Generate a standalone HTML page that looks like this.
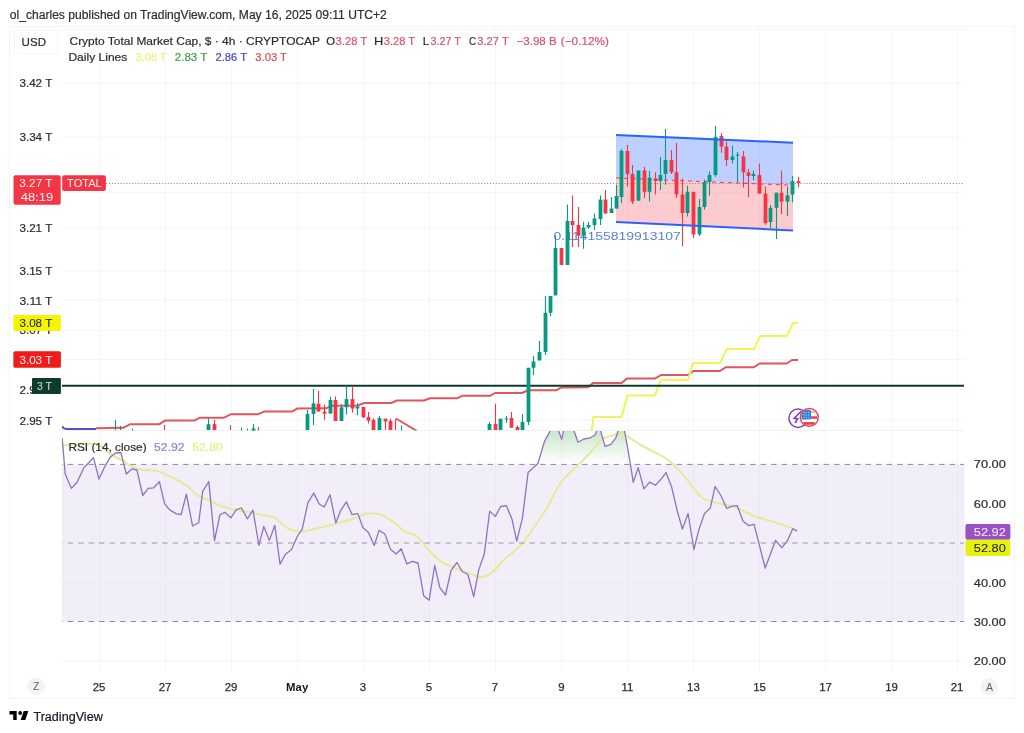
<!DOCTYPE html>
<html><head><meta charset="utf-8"><style>
html,body{margin:0;padding:0;background:#fff;width:1024px;height:733px;overflow:hidden;}
svg{display:block;font-family:"Liberation Sans", sans-serif;will-change:transform;}
</style></head><body>
<svg width="1024" height="733" viewBox="0 0 1024 733">
<rect x="9.5" y="26.5" width="1005" height="672" fill="none" stroke="#f4f4f4" stroke-width="1"/>
<rect x="14.5" y="30.5" width="43" height="23" rx="3" fill="none" stroke="#f5f5f5"/>
<line x1="99.5" y1="27" x2="99.5" y2="671" stroke="#f6f6f8" stroke-width="1"/>
<line x1="165.5" y1="27" x2="165.5" y2="671" stroke="#f6f6f8" stroke-width="1"/>
<line x1="231.5" y1="27" x2="231.5" y2="671" stroke="#f6f6f8" stroke-width="1"/>
<line x1="297.5" y1="27" x2="297.5" y2="671" stroke="#f6f6f8" stroke-width="1"/>
<line x1="363.5" y1="27" x2="363.5" y2="671" stroke="#f6f6f8" stroke-width="1"/>
<line x1="429.5" y1="27" x2="429.5" y2="671" stroke="#f6f6f8" stroke-width="1"/>
<line x1="495.5" y1="27" x2="495.5" y2="671" stroke="#f6f6f8" stroke-width="1"/>
<line x1="561.5" y1="27" x2="561.5" y2="671" stroke="#f6f6f8" stroke-width="1"/>
<line x1="627.5" y1="27" x2="627.5" y2="671" stroke="#f6f6f8" stroke-width="1"/>
<line x1="693.5" y1="27" x2="693.5" y2="671" stroke="#f6f6f8" stroke-width="1"/>
<line x1="759.5" y1="27" x2="759.5" y2="671" stroke="#f6f6f8" stroke-width="1"/>
<line x1="825.5" y1="27" x2="825.5" y2="671" stroke="#f6f6f8" stroke-width="1"/>
<line x1="891.5" y1="27" x2="891.5" y2="671" stroke="#f6f6f8" stroke-width="1"/>
<line x1="957.5" y1="27" x2="957.5" y2="671" stroke="#f6f6f8" stroke-width="1"/>
<line x1="62" y1="83.0" x2="964" y2="83.0" stroke="#f6f6f8" stroke-width="1"/>
<line x1="62" y1="137.0" x2="964" y2="137.0" stroke="#f6f6f8" stroke-width="1"/>
<line x1="62" y1="192.4" x2="964" y2="192.4" stroke="#f6f6f8" stroke-width="1"/>
<line x1="62" y1="227.5" x2="964" y2="227.5" stroke="#f6f6f8" stroke-width="1"/>
<line x1="62" y1="271.0" x2="964" y2="271.0" stroke="#f6f6f8" stroke-width="1"/>
<line x1="62" y1="300.0" x2="964" y2="300.0" stroke="#f6f6f8" stroke-width="1"/>
<line x1="62" y1="330.5" x2="964" y2="330.5" stroke="#f6f6f8" stroke-width="1"/>
<line x1="62" y1="359.5" x2="964" y2="359.5" stroke="#f6f6f8" stroke-width="1"/>
<line x1="62" y1="389.5" x2="964" y2="389.5" stroke="#f6f6f8" stroke-width="1"/>
<line x1="62" y1="420.5" x2="964" y2="420.5" stroke="#f6f6f8" stroke-width="1"/>
<line x1="62" y1="430.5" x2="964" y2="430.5" stroke="#f0f0f0" stroke-width="1"/>
<line x1="59" y1="29.5" x2="964" y2="29.5" stroke="#f7f7f7" stroke-width="1"/>
<polygon points="616,135 793,142.7 793,185.3 616,178" fill="rgba(41,98,255,0.3)"/>
<polygon points="616,178 793,185.3 793,230.4 616,222" fill="rgba(242,54,69,0.26)"/>
<line x1="106" y1="183.5" x2="964" y2="183.5" stroke="#c9788a" stroke-width="1" stroke-dasharray="1.2,1.73"/>
<line x1="616" y1="178" x2="793" y2="185.3" stroke="#f23645" stroke-width="1" stroke-dasharray="4,4"/>
<defs><clipPath id="mp"><rect x="62" y="60" width="902" height="370.5"/></clipPath><clipPath id="rp"><rect x="62" y="431" width="902" height="240"/></clipPath><linearGradient id="ob" x1="0" y1="431" x2="0" y2="464.4" gradientUnits="userSpaceOnUse"><stop offset="0" stop-color="rgba(76,175,80,0.3)"/><stop offset="1" stop-color="rgba(76,175,80,0)"/></linearGradient></defs>
<text x="553.50" y="239.80" font-size="11.2" font-weight="normal" fill="#5b80d0" stroke="#5b80d0" stroke-width="0" textLength="127.25" lengthAdjust="spacingAndGlyphs" font-family="'Liberation Sans', sans-serif">0.114155819913107</text>
<g clip-path="url(#mp)">
<polyline points="96.0,428.2 123.0,427.8 130.0,424.3 159.0,424.3 165.0,420.6 194.0,420.6 200.0,417.7 224.0,417.7 231.0,414.2 258.0,414.2 264.0,411.6 292.0,411.6 297.0,408.6 326.0,408.3 331.0,405.8 358.0,405.5 364.0,403.0 391.0,403.0 397.0,400.5 424.0,400.5 430.0,398.3 457.0,398.3 462.0,395.8 490.0,395.8 495.0,393.0 522.0,393.0 528.0,390.3 556.0,390.3 561.0,387.6 588.0,387.2 593.0,383.0 621.5,383.0 627.0,378.6 655.0,378.6 661.0,375.0 688.0,375.0 693.4,371.0 720.0,371.0 726.0,367.2 754.0,367.2 759.7,363.5 786.6,363.5 792.0,360.0 798.0,360.0" fill="none" stroke="#e0565f" stroke-width="2" stroke-linejoin="round"/>
<path d="M62,426 Q63,429 67,429 L96,429" fill="none" stroke="#5a4fc8" stroke-width="2"/>
<line x1="396" y1="418.5" x2="417" y2="431" stroke="#e0565f" stroke-width="2"/>
<polyline points="591.5,432.0 593.5,417.0 621.6,417.0 627.5,395.4 655.0,395.4 660.7,380.0 688.0,380.0 693.0,363.0 720.0,363.0 727.0,349.0 754.0,349.0 760.0,336.0 787.0,336.0 793.0,323.0 798.0,323.0" fill="none" stroke="#eef45a" stroke-width="2" stroke-linejoin="round"/>
<line x1="62" y1="385.8" x2="964" y2="385.8" stroke="#0f3a2e" stroke-width="2"/>
<line x1="115.5" y1="420.0" x2="115.5" y2="430.0" stroke="#089981" stroke-width="1.1"/>
<line x1="120.5" y1="426.0" x2="120.5" y2="430.0" stroke="#089981" stroke-width="1.1"/>
<line x1="132.5" y1="428.5" x2="132.5" y2="431.0" stroke="#089981" stroke-width="1.1"/>
<line x1="164.5" y1="425.0" x2="164.5" y2="430.0" stroke="#f23645" stroke-width="1.1"/>
<line x1="208.5" y1="418.3" x2="208.5" y2="430.0" stroke="#089981" stroke-width="1.1"/>
<rect x="206.6" y="424.2" width="3.8" height="5.8" fill="#089981"/>
<line x1="214.5" y1="419.9" x2="214.5" y2="430.0" stroke="#f23645" stroke-width="1.1"/>
<rect x="212.6" y="424.2" width="3.8" height="5.8" fill="#f23645"/>
<line x1="230.5" y1="425.2" x2="230.5" y2="430.0" stroke="#f23645" stroke-width="1.1"/>
<line x1="241.5" y1="427.5" x2="241.5" y2="431.0" stroke="#089981" stroke-width="1.1"/>
<line x1="247.5" y1="428.5" x2="247.5" y2="431.0" stroke="#089981" stroke-width="1.1"/>
<line x1="253.5" y1="424.0" x2="253.5" y2="431.0" stroke="#089981" stroke-width="1.1"/>
<rect x="251.6" y="428.5" width="3.8" height="2.5" fill="#089981"/>
<line x1="258.5" y1="427.0" x2="258.5" y2="431.0" stroke="#f23645" stroke-width="1.1"/>
<line x1="307.5" y1="410.0" x2="307.5" y2="430.0" stroke="#089981" stroke-width="1.1"/>
<rect x="305.6" y="414.0" width="3.8" height="16.0" fill="#089981"/>
<line x1="313.5" y1="389.0" x2="313.5" y2="425.0" stroke="#089981" stroke-width="1.1"/>
<rect x="311.6" y="403.4" width="3.8" height="10.6" fill="#089981"/>
<line x1="318.5" y1="391.0" x2="318.5" y2="411.6" stroke="#f23645" stroke-width="1.1"/>
<rect x="316.6" y="403.8" width="3.8" height="7.8" fill="#f23645"/>
<line x1="324.5" y1="404.6" x2="324.5" y2="419.8" stroke="#f23645" stroke-width="1.1"/>
<rect x="322.6" y="411.6" width="3.8" height="2.0" fill="#f23645"/>
<line x1="330.5" y1="396.8" x2="330.5" y2="413.6" stroke="#089981" stroke-width="1.1"/>
<rect x="328.6" y="400.0" width="3.8" height="13.6" fill="#089981"/>
<line x1="335.5" y1="396.4" x2="335.5" y2="421.0" stroke="#f23645" stroke-width="1.1"/>
<rect x="333.6" y="400.0" width="3.8" height="21.0" fill="#f23645"/>
<line x1="341.5" y1="404.2" x2="341.5" y2="421.0" stroke="#089981" stroke-width="1.1"/>
<rect x="339.6" y="407.3" width="3.8" height="13.7" fill="#089981"/>
<line x1="346.5" y1="386.2" x2="346.5" y2="414.4" stroke="#089981" stroke-width="1.1"/>
<rect x="344.6" y="399.1" width="3.8" height="8.2" fill="#089981"/>
<line x1="352.5" y1="386.2" x2="352.5" y2="412.8" stroke="#f23645" stroke-width="1.1"/>
<rect x="350.6" y="399.1" width="3.8" height="9.4" fill="#f23645"/>
<line x1="357.5" y1="403.0" x2="357.5" y2="415.2" stroke="#089981" stroke-width="1.1"/>
<rect x="355.6" y="406.6" width="3.8" height="1.9" fill="#089981"/>
<line x1="363.5" y1="407.0" x2="363.5" y2="418.3" stroke="#f23645" stroke-width="1.1"/>
<rect x="361.6" y="407.0" width="3.8" height="10.1" fill="#f23645"/>
<line x1="368.5" y1="412.0" x2="368.5" y2="423.4" stroke="#f23645" stroke-width="1.1"/>
<rect x="366.6" y="417.1" width="3.8" height="3.5" fill="#f23645"/>
<line x1="373.5" y1="418.3" x2="373.5" y2="430.0" stroke="#f23645" stroke-width="1.1"/>
<rect x="371.6" y="419.8" width="3.8" height="10.2" fill="#f23645"/>
<line x1="379.5" y1="416.0" x2="379.5" y2="430.0" stroke="#089981" stroke-width="1.1"/>
<rect x="377.6" y="418.0" width="3.8" height="12.0" fill="#089981"/>
<line x1="385.5" y1="418.7" x2="385.5" y2="430.0" stroke="#f23645" stroke-width="1.1"/>
<rect x="383.6" y="418.7" width="3.8" height="2.8" fill="#f23645"/>
<line x1="390.5" y1="418.7" x2="390.5" y2="430.0" stroke="#f23645" stroke-width="1.1"/>
<rect x="388.6" y="420.8" width="3.8" height="9.2" fill="#f23645"/>
<line x1="395.5" y1="418.7" x2="395.5" y2="430.0" stroke="#f23645" stroke-width="1.1"/>
<line x1="401.5" y1="425.6" x2="401.5" y2="431.0" stroke="#089981" stroke-width="1.1"/>
<line x1="489.5" y1="422.0" x2="489.5" y2="430.0" stroke="#089981" stroke-width="1.1"/>
<rect x="487.6" y="424.0" width="3.8" height="6.0" fill="#089981"/>
<line x1="495.5" y1="403.7" x2="495.5" y2="430.0" stroke="#f23645" stroke-width="1.1"/>
<rect x="493.6" y="424.0" width="3.8" height="6.0" fill="#f23645"/>
<line x1="500.5" y1="418.7" x2="500.5" y2="430.0" stroke="#089981" stroke-width="1.1"/>
<rect x="498.6" y="418.7" width="3.8" height="11.3" fill="#089981"/>
<line x1="506.5" y1="416.0" x2="506.5" y2="423.0" stroke="#089981" stroke-width="1.1"/>
<rect x="504.6" y="418.5" width="3.8" height="1.0" fill="#089981"/>
<line x1="511.5" y1="412.0" x2="511.5" y2="428.0" stroke="#f23645" stroke-width="1.1"/>
<rect x="509.6" y="418.0" width="3.8" height="9.6" fill="#f23645"/>
<line x1="517.5" y1="425.5" x2="517.5" y2="430.0" stroke="#f23645" stroke-width="1.1"/>
<rect x="515.6" y="427.0" width="3.8" height="3.0" fill="#f23645"/>
<line x1="522.5" y1="414.0" x2="522.5" y2="430.0" stroke="#089981" stroke-width="1.1"/>
<rect x="520.6" y="422.0" width="3.8" height="8.0" fill="#089981"/>
<line x1="528.5" y1="367.8" x2="528.5" y2="425.0" stroke="#089981" stroke-width="1.1"/>
<rect x="526.6" y="367.8" width="3.8" height="54.2" fill="#089981"/>
<line x1="533.5" y1="356.0" x2="533.5" y2="375.0" stroke="#089981" stroke-width="1.1"/>
<rect x="531.6" y="361.5" width="3.8" height="6.3" fill="#089981"/>
<line x1="539.5" y1="341.0" x2="539.5" y2="360.4" stroke="#089981" stroke-width="1.1"/>
<rect x="537.6" y="352.0" width="3.8" height="8.4" fill="#089981"/>
<line x1="545.5" y1="296.0" x2="545.5" y2="355.0" stroke="#089981" stroke-width="1.1"/>
<rect x="543.6" y="312.8" width="3.8" height="39.2" fill="#089981"/>
<line x1="550.5" y1="296.0" x2="550.5" y2="316.0" stroke="#089981" stroke-width="1.1"/>
<rect x="548.6" y="296.0" width="3.8" height="16.8" fill="#089981"/>
<line x1="555.5" y1="235.6" x2="555.5" y2="295.4" stroke="#089981" stroke-width="1.1"/>
<rect x="553.6" y="248.0" width="3.8" height="47.4" fill="#089981"/>
<line x1="561.5" y1="248.0" x2="561.5" y2="265.0" stroke="#f23645" stroke-width="1.1"/>
<rect x="559.6" y="248.0" width="3.8" height="17.0" fill="#f23645"/>
<line x1="567.5" y1="204.5" x2="567.5" y2="265.0" stroke="#089981" stroke-width="1.1"/>
<rect x="565.6" y="221.0" width="3.8" height="44.0" fill="#089981"/>
<line x1="572.5" y1="195.5" x2="572.5" y2="247.0" stroke="#f23645" stroke-width="1.1"/>
<rect x="570.6" y="221.0" width="3.8" height="4.0" fill="#f23645"/>
<line x1="578.5" y1="207.0" x2="578.5" y2="247.0" stroke="#f23645" stroke-width="1.1"/>
<rect x="576.6" y="225.0" width="3.8" height="10.6" fill="#f23645"/>
<line x1="583.5" y1="221.7" x2="583.5" y2="248.7" stroke="#089981" stroke-width="1.1"/>
<rect x="581.6" y="227.5" width="3.8" height="8.1" fill="#089981"/>
<line x1="588.5" y1="221.7" x2="588.5" y2="229.0" stroke="#089981" stroke-width="1.1"/>
<rect x="586.6" y="225.0" width="3.8" height="2.5" fill="#089981"/>
<line x1="594.5" y1="213.5" x2="594.5" y2="230.0" stroke="#089981" stroke-width="1.1"/>
<rect x="592.6" y="218.5" width="3.8" height="6.5" fill="#089981"/>
<line x1="600.5" y1="195.5" x2="600.5" y2="225.0" stroke="#089981" stroke-width="1.1"/>
<rect x="598.6" y="199.6" width="3.8" height="19.4" fill="#089981"/>
<line x1="605.5" y1="190.0" x2="605.5" y2="213.5" stroke="#f23645" stroke-width="1.1"/>
<rect x="603.6" y="199.6" width="3.8" height="13.9" fill="#f23645"/>
<line x1="611.5" y1="197.0" x2="611.5" y2="213.0" stroke="#089981" stroke-width="1.1"/>
<rect x="609.6" y="208.6" width="3.8" height="4.4" fill="#089981"/>
<line x1="616.5" y1="184.7" x2="616.5" y2="208.6" stroke="#089981" stroke-width="1.1"/>
<rect x="614.6" y="196.0" width="3.8" height="12.6" fill="#089981"/>
<line x1="621.5" y1="149.0" x2="621.5" y2="203.0" stroke="#089981" stroke-width="1.1"/>
<rect x="619.6" y="151.0" width="3.8" height="46.0" fill="#089981"/>
<line x1="627.5" y1="144.8" x2="627.5" y2="186.5" stroke="#f23645" stroke-width="1.1"/>
<rect x="625.6" y="151.0" width="3.8" height="23.0" fill="#f23645"/>
<line x1="632.5" y1="165.0" x2="632.5" y2="204.0" stroke="#f23645" stroke-width="1.1"/>
<rect x="630.6" y="174.0" width="3.8" height="27.6" fill="#f23645"/>
<line x1="638.5" y1="170.5" x2="638.5" y2="200.7" stroke="#089981" stroke-width="1.1"/>
<rect x="636.6" y="170.5" width="3.8" height="30.2" fill="#089981"/>
<line x1="644.5" y1="167.0" x2="644.5" y2="198.0" stroke="#f23645" stroke-width="1.1"/>
<rect x="642.6" y="170.5" width="3.8" height="21.3" fill="#f23645"/>
<line x1="649.5" y1="171.0" x2="649.5" y2="201.6" stroke="#089981" stroke-width="1.1"/>
<rect x="647.6" y="177.6" width="3.8" height="14.2" fill="#089981"/>
<line x1="655.5" y1="172.3" x2="655.5" y2="194.5" stroke="#f23645" stroke-width="1.1"/>
<rect x="653.6" y="178.5" width="3.8" height="2.5" fill="#f23645"/>
<line x1="660.5" y1="157.0" x2="660.5" y2="190.0" stroke="#089981" stroke-width="1.1"/>
<rect x="658.6" y="175.0" width="3.8" height="6.0" fill="#089981"/>
<line x1="665.5" y1="128.9" x2="665.5" y2="184.7" stroke="#089981" stroke-width="1.1"/>
<rect x="663.6" y="160.0" width="3.8" height="14.0" fill="#089981"/>
<line x1="671.5" y1="150.0" x2="671.5" y2="174.0" stroke="#f23645" stroke-width="1.1"/>
<rect x="669.6" y="160.0" width="3.8" height="12.3" fill="#f23645"/>
<line x1="676.5" y1="143.0" x2="676.5" y2="198.0" stroke="#f23645" stroke-width="1.1"/>
<rect x="674.6" y="172.3" width="3.8" height="22.2" fill="#f23645"/>
<line x1="682.5" y1="178.5" x2="682.5" y2="246.0" stroke="#f23645" stroke-width="1.1"/>
<rect x="680.6" y="194.5" width="3.8" height="18.5" fill="#f23645"/>
<line x1="687.5" y1="185.6" x2="687.5" y2="216.6" stroke="#089981" stroke-width="1.1"/>
<rect x="685.6" y="191.8" width="3.8" height="21.2" fill="#089981"/>
<line x1="693.5" y1="191.8" x2="693.5" y2="238.0" stroke="#f23645" stroke-width="1.1"/>
<rect x="691.6" y="191.8" width="3.8" height="42.6" fill="#f23645"/>
<line x1="699.5" y1="199.0" x2="699.5" y2="236.0" stroke="#089981" stroke-width="1.1"/>
<rect x="697.6" y="207.0" width="3.8" height="27.4" fill="#089981"/>
<line x1="704.5" y1="179.4" x2="704.5" y2="209.6" stroke="#089981" stroke-width="1.1"/>
<rect x="702.6" y="182.0" width="3.8" height="25.0" fill="#089981"/>
<line x1="709.5" y1="171.5" x2="709.5" y2="195.4" stroke="#089981" stroke-width="1.1"/>
<rect x="707.6" y="175.0" width="3.8" height="7.0" fill="#089981"/>
<line x1="715.5" y1="126.0" x2="715.5" y2="176.8" stroke="#089981" stroke-width="1.1"/>
<rect x="713.6" y="136.9" width="3.8" height="38.1" fill="#089981"/>
<line x1="721.5" y1="133.3" x2="721.5" y2="152.8" stroke="#f23645" stroke-width="1.1"/>
<rect x="719.6" y="136.0" width="3.8" height="10.6" fill="#f23645"/>
<line x1="726.5" y1="141.3" x2="726.5" y2="166.0" stroke="#f23645" stroke-width="1.1"/>
<rect x="724.6" y="146.6" width="3.8" height="13.4" fill="#f23645"/>
<line x1="732.5" y1="145.7" x2="732.5" y2="163.5" stroke="#089981" stroke-width="1.1"/>
<rect x="730.6" y="156.4" width="3.8" height="3.6" fill="#089981"/>
<line x1="737.5" y1="152.0" x2="737.5" y2="182.0" stroke="#089981" stroke-width="1.1"/>
<rect x="735.6" y="154.6" width="3.8" height="1.2" fill="#089981"/>
<line x1="743.5" y1="151.0" x2="743.5" y2="187.4" stroke="#f23645" stroke-width="1.1"/>
<rect x="741.6" y="156.4" width="3.8" height="15.9" fill="#f23645"/>
<line x1="748.5" y1="168.8" x2="748.5" y2="197.2" stroke="#f23645" stroke-width="1.1"/>
<rect x="746.6" y="172.3" width="3.8" height="3.6" fill="#f23645"/>
<line x1="753.5" y1="170.6" x2="753.5" y2="180.3" stroke="#089981" stroke-width="1.1"/>
<rect x="751.6" y="174.0" width="3.8" height="1.9" fill="#089981"/>
<line x1="759.5" y1="163.5" x2="759.5" y2="193.6" stroke="#f23645" stroke-width="1.1"/>
<rect x="757.6" y="175.0" width="3.8" height="18.6" fill="#f23645"/>
<line x1="765.5" y1="186.5" x2="765.5" y2="224.7" stroke="#f23645" stroke-width="1.1"/>
<rect x="763.6" y="193.6" width="3.8" height="29.4" fill="#f23645"/>
<line x1="770.5" y1="205.0" x2="770.5" y2="228.2" stroke="#089981" stroke-width="1.1"/>
<rect x="768.6" y="207.8" width="3.8" height="14.2" fill="#089981"/>
<line x1="776.5" y1="192.7" x2="776.5" y2="238.9" stroke="#089981" stroke-width="1.1"/>
<rect x="774.6" y="192.7" width="3.8" height="15.1" fill="#089981"/>
<line x1="781.5" y1="170.6" x2="781.5" y2="214.0" stroke="#f23645" stroke-width="1.1"/>
<rect x="779.6" y="192.7" width="3.8" height="8.9" fill="#f23645"/>
<line x1="787.5" y1="186.5" x2="787.5" y2="215.8" stroke="#089981" stroke-width="1.1"/>
<rect x="785.6" y="195.4" width="3.8" height="6.2" fill="#089981"/>
<line x1="792.5" y1="176.0" x2="792.5" y2="202.5" stroke="#089981" stroke-width="1.1"/>
<rect x="790.6" y="181.2" width="3.8" height="13.3" fill="#089981"/>
<line x1="798.5" y1="176.8" x2="798.5" y2="187.4" stroke="#f23645" stroke-width="1.1"/>
<rect x="796.6" y="181.2" width="3.8" height="1.8" fill="#f23645"/>
</g>
<line x1="616" y1="135" x2="793" y2="142.7" stroke="#2962ff" stroke-width="2"/>
<line x1="616" y1="222" x2="793" y2="230.4" stroke="#2962ff" stroke-width="2"/>
<circle cx="798.1" cy="418.2" r="9.2" fill="#fff" stroke="#8a40b8" stroke-width="1.5"/>
<path d="M801.5,411 L794.2,418.3 L797.6,418.6 L795.2,423" fill="none" stroke="#8a35c0" stroke-width="1.6" stroke-linejoin="miter"/>
<defs><clipPath id="fc"><circle cx="809.3" cy="417.4" r="8.3"/></clipPath></defs>
<circle cx="809.3" cy="417.4" r="8.95" fill="#fff" stroke="#d64c5c" stroke-width="1.5"/>
<g clip-path="url(#fc)">
<rect x="811" y="411.2" width="8" height="1.7" fill="#f0a6ae"/>
<rect x="811" y="416.3" width="6" height="2.5" fill="#e0424f"/>
<rect x="803.5" y="422.1" width="11.2" height="2.7" fill="#e0424f"/>
<rect x="801.4" y="410.1" width="9.6" height="9.3" rx="1.5" fill="#3a7fd8"/>
<circle cx="804.1" cy="412.5" r="0.6" fill="#b9d8f8"/>
<circle cx="804.1" cy="414.9" r="0.6" fill="#b9d8f8"/>
<circle cx="804.1" cy="417.5" r="0.6" fill="#b9d8f8"/>
<circle cx="806.2" cy="412.5" r="0.6" fill="#b9d8f8"/>
<circle cx="806.2" cy="414.9" r="0.6" fill="#b9d8f8"/>
<circle cx="806.2" cy="417.5" r="0.6" fill="#b9d8f8"/>
<circle cx="808.6" cy="412.5" r="0.6" fill="#b9d8f8"/>
<circle cx="808.6" cy="414.9" r="0.6" fill="#b9d8f8"/>
<circle cx="808.6" cy="417.5" r="0.6" fill="#b9d8f8"/>
</g>
<rect x="62" y="464.4" width="902.5" height="157.1" fill="rgba(126,87,194,0.1)"/>
<line x1="62" y1="504.0" x2="964" y2="504.0" stroke="#ebe9f0" stroke-width="1"/>
<line x1="62" y1="582.8" x2="964" y2="582.8" stroke="#ebe9f0" stroke-width="1"/>
<line x1="62" y1="661" x2="964" y2="661" stroke="#f3f3f6" stroke-width="1"/>
<g clip-path="url(#rp)">
<clipPath id="ab"><rect x="62" y="431" width="902" height="33.4"/></clipPath>
<polygon points="62.2,438.2 65.2,474.0 71.4,488.4 77.1,482.2 83.7,467.9 88.8,462.8 93.5,457.6 99.0,479.1 104.1,467.9 109.9,457.6 115.4,453.0 120.9,452.5 126.3,474.0 131.8,468.9 136.9,470.0 142.7,495.5 148.2,488.4 153.7,487.8 159.4,481.6 164.6,503.7 169.7,509.9 176.5,513.9 181.1,514.5 186.4,494.2 192.6,526.0 198.7,522.7 202.7,491.3 208.8,481.5 214.5,540.7 219.9,515.0 224.8,512.2 230.9,517.8 236.3,509.6 241.5,508.0 247.4,518.8 253.0,510.1 258.9,545.3 263.8,526.5 269.4,540.4 274.8,525.3 280.0,564.1 285.4,554.3 291.5,549.6 297.3,536.5 302.2,529.1 307.9,502.9 313.7,493.1 319.4,504.2 324.3,507.0 330.0,494.7 335.8,522.9 340.7,510.3 346.4,501.8 352.1,514.7 357.9,513.6 362.8,527.5 368.5,532.4 374.2,545.5 379.1,530.4 384.9,534.0 390.6,549.6 396.3,554.0 401.2,548.8 406.9,563.9 412.3,561.4 418.0,563.0 423.7,595.8 429.1,600.2 434.7,565.5 439.8,587.6 445.5,595.0 451.1,570.4 457.0,562.5 462.2,571.5 467.9,574.5 473.7,596.6 478.6,570.4 484.3,554.0 489.7,511.1 495.3,516.4 500.7,506.5 506.4,505.7 512.1,519.6 516.7,541.2 522.4,518.3 528.1,472.5 537.9,463.5 544.5,441.4 551.8,428.0 556.5,425.0 561.7,439.4 564.1,428.0 573.1,428.0 578.0,442.2 583.8,439.0 590.3,437.8 595.2,434.8 599.0,425.0 605.0,446.3 610.8,444.3 615.7,438.1 620.0,425.0 624.0,428.0 628.8,454.5 633.3,482.4 638.2,467.7 643.9,488.9 649.6,482.1 655.4,485.3 661.1,479.1 666.0,472.6 671.7,487.3 677.5,511.9 682.4,529.0 688.1,513.5 693.9,549.5 698.8,529.9 704.5,513.5 710.2,508.3 715.1,486.5 720.9,495.5 726.6,508.3 732.3,506.1 737.2,505.6 743.1,521.3 748.6,525.6 754.1,524.4 765.2,568.0 775.6,540.3 781.8,547.7 787.3,541.0 792.8,528.7 797.1,531.1 797.1,464.4 62.2,464.4" fill="url(#ob)" clip-path="url(#ab)"/>
<path d="M62.2,445.4 C67.8,445.2 88.4,442.8 96.0,444.0 C103.6,445.2 103.6,449.7 108.0,452.5 C112.4,455.3 118.5,458.3 122.6,460.7 C126.7,463.1 129.4,465.3 132.8,466.9 C136.2,468.4 138.9,469.3 143.0,470.0 C147.1,470.7 152.1,469.5 157.4,471.0 C162.7,472.5 170.2,476.6 175.0,479.0 C179.8,481.4 182.6,482.9 186.4,485.6 C190.2,488.3 194.0,492.9 197.8,495.4 C201.6,497.8 205.8,498.7 209.3,500.3 C212.9,501.9 215.3,503.7 219.1,505.2 C222.9,506.7 227.5,508.2 232.2,509.3 C236.8,510.4 242.1,510.8 247.0,511.7 C251.9,512.6 257.2,514.0 261.7,515.0 C266.2,516.0 270.4,515.9 274.0,517.5 C277.6,519.1 280.3,522.8 283.0,524.8 C285.7,526.8 286.9,528.2 290.0,529.3 C293.1,530.4 296.8,531.8 301.4,531.6 C306.0,531.4 312.2,529.5 317.7,528.3 C323.1,527.1 328.1,525.8 334.1,524.2 C340.1,522.6 348.3,520.3 353.8,518.5 C359.3,516.7 362.3,514.2 366.9,513.6 C371.5,513.0 376.7,512.9 381.6,514.7 C386.5,516.5 392.4,521.4 396.3,524.2 C400.2,527.0 401.6,529.6 405.0,531.6 C408.4,533.6 412.6,533.1 416.4,536.0 C420.2,538.9 423.7,544.9 427.8,549.1 C431.9,553.3 436.0,558.1 440.9,561.4 C445.8,564.7 452.6,566.9 457.3,568.8 C462.0,570.7 465.0,571.5 468.8,572.9 C472.6,574.3 476.4,577.0 480.2,577.0 C484.0,577.0 487.9,575.6 491.7,572.9 C495.5,570.2 498.1,565.3 503.1,560.6 C508.1,555.9 516.2,550.2 521.5,544.5 C526.8,538.8 530.2,532.8 534.6,526.5 C539.0,520.2 543.3,514.3 547.7,506.9 C552.1,499.5 555.9,489.1 560.8,482.3 C565.7,475.5 572.3,470.8 577.2,465.9 C582.1,461.0 586.2,457.2 590.3,452.8 C594.4,448.4 598.0,442.6 601.8,439.7 C605.6,436.8 609.7,436.1 613.2,435.2 C616.8,434.2 619.5,433.0 623.1,434.0 C626.7,435.0 631.1,439.1 635.0,441.4 C638.9,443.7 640.9,445.0 646.4,448.0 C651.9,451.0 661.4,454.9 667.7,459.5 C674.0,464.1 679.4,470.6 684.0,475.8 C688.6,481.0 692.2,486.8 695.5,490.6 C698.8,494.4 700.2,496.8 703.7,498.8 C707.2,500.9 712.7,501.8 716.8,502.9 C720.9,504.0 724.7,504.4 728.2,505.3 C731.7,506.2 734.0,507.0 738.0,508.6 C742.0,510.2 747.5,513.3 752.3,515.2 C757.1,517.1 762.1,518.6 767.0,520.1 C771.9,521.6 776.8,522.7 781.8,524.4 C786.8,526.1 794.5,529.5 797.1,530.5" fill="none" stroke="#e6ea98" stroke-width="2" stroke-linejoin="round"/>
<polyline points="62.2,438.2 65.2,474.0 71.4,488.4 77.1,482.2 83.7,467.9 88.8,462.8 93.5,457.6 99.0,479.1 104.1,467.9 109.9,457.6 115.4,453.0 120.9,452.5 126.3,474.0 131.8,468.9 136.9,470.0 142.7,495.5 148.2,488.4 153.7,487.8 159.4,481.6 164.6,503.7 169.7,509.9 176.5,513.9 181.1,514.5 186.4,494.2 192.6,526.0 198.7,522.7 202.7,491.3 208.8,481.5 214.5,540.7 219.9,515.0 224.8,512.2 230.9,517.8 236.3,509.6 241.5,508.0 247.4,518.8 253.0,510.1 258.9,545.3 263.8,526.5 269.4,540.4 274.8,525.3 280.0,564.1 285.4,554.3 291.5,549.6 297.3,536.5 302.2,529.1 307.9,502.9 313.7,493.1 319.4,504.2 324.3,507.0 330.0,494.7 335.8,522.9 340.7,510.3 346.4,501.8 352.1,514.7 357.9,513.6 362.8,527.5 368.5,532.4 374.2,545.5 379.1,530.4 384.9,534.0 390.6,549.6 396.3,554.0 401.2,548.8 406.9,563.9 412.3,561.4 418.0,563.0 423.7,595.8 429.1,600.2 434.7,565.5 439.8,587.6 445.5,595.0 451.1,570.4 457.0,562.5 462.2,571.5 467.9,574.5 473.7,596.6 478.6,570.4 484.3,554.0 489.7,511.1 495.3,516.4 500.7,506.5 506.4,505.7 512.1,519.6 516.7,541.2 522.4,518.3 528.1,472.5 537.9,463.5 544.5,441.4 551.8,428.0 556.5,425.0 561.7,439.4 564.1,428.0 573.1,428.0 578.0,442.2 583.8,439.0 590.3,437.8 595.2,434.8 599.0,425.0 605.0,446.3 610.8,444.3 615.7,438.1 620.0,425.0 624.0,428.0 628.8,454.5 633.3,482.4 638.2,467.7 643.9,488.9 649.6,482.1 655.4,485.3 661.1,479.1 666.0,472.6 671.7,487.3 677.5,511.9 682.4,529.0 688.1,513.5 693.9,549.5 698.8,529.9 704.5,513.5 710.2,508.3 715.1,486.5 720.9,495.5 726.6,508.3 732.3,506.1 737.2,505.6 743.1,521.3 748.6,525.6 754.1,524.4 765.2,568.0 775.6,540.3 781.8,547.7 787.3,541.0 792.8,528.7 797.1,531.1" fill="none" stroke="#9270c0" stroke-width="1.3" stroke-linejoin="round"/>
</g>
<line x1="62" y1="464.4" x2="964" y2="464.4" stroke="#8c8c98" stroke-width="1" stroke-dasharray="5.5,5" stroke-dashoffset="4.9"/>
<line x1="62" y1="543.0" x2="964" y2="543.0" stroke="#9a9aa4" stroke-width="1" stroke-dasharray="5.5,5" stroke-dashoffset="4.9"/>
<line x1="62" y1="621.5" x2="964" y2="621.5" stroke="#8c8c98" stroke-width="1" stroke-dasharray="5.5,5" stroke-dashoffset="4.9"/>
<rect x="13.5" y="175.2" width="47.2" height="29.5" rx="2" fill="#f23645"/>
<rect x="62.2" y="175.2" width="43.7" height="15.8" rx="2" fill="#f23645"/>
<rect x="13.6" y="315" width="47.1" height="15.7" rx="1" fill="#f5f500"/>
<rect x="13.6" y="351.6" width="47.1" height="15.9" rx="1" fill="#f01c1c"/>
<rect x="32" y="378" width="28.7" height="15.9" rx="1" fill="#0e3b2f"/>
<rect x="965.4" y="524" width="45" height="15.7" rx="2" fill="#9951c6"/>
<rect x="965.4" y="539.7" width="45" height="16.3" rx="2" fill="#e6f10f"/>
<circle cx="36.1" cy="686.2" r="8.8" fill="#f3f3f4"/>
<circle cx="989.4" cy="686.8" r="8.8" fill="#f3f3f4"/>
<path d="M9.5,711 H16.7 V720 H13.2 V714.5 H9.5 Z" fill="#000"/>
<circle cx="20.2" cy="713" r="1.9" fill="#000"/>
<path d="M23.75,711 H28.4 L25.3,720 H20.6 Z" fill="#000"/>
<text x="9.80" y="19.20" font-size="12" font-weight="normal" fill="#2b2d33" stroke="#2b2d33" stroke-width="0.2" textLength="377.03" lengthAdjust="spacingAndGlyphs" font-family="'Liberation Sans', sans-serif">ol_charles published on TradingView.com, May 16, 2025 09:11 UTC+2</text>
<text x="21.55" y="45.60" font-size="11" font-weight="normal" fill="#2b2d33" stroke="#2b2d33" stroke-width="0.2" textLength="24.50" lengthAdjust="spacingAndGlyphs" font-family="'Liberation Sans', sans-serif">USD</text>
<text x="69.50" y="45.10" font-size="11" font-weight="normal" fill="#2b2d33" stroke="#2b2d33" stroke-width="0.2" textLength="250.53" lengthAdjust="spacingAndGlyphs" font-family="'Liberation Sans', sans-serif">Crypto Total Market Cap, $ · 4h · CRYPTOCAP</text>
<text x="326.20" y="45.10" font-size="11" font-weight="normal" fill="#2b2d33" stroke="#2b2d33" stroke-width="0.2" textLength="8.78" lengthAdjust="spacingAndGlyphs" font-family="'Liberation Sans', sans-serif">O</text>
<text x="335.50" y="45.10" font-size="11" font-weight="normal" fill="#dc5269" stroke="#dc5269" stroke-width="0.2" textLength="31.70" lengthAdjust="spacingAndGlyphs" font-family="'Liberation Sans', sans-serif">3.28 T</text>
<text x="374.13" y="45.10" font-size="11" font-weight="normal" fill="#2b2d33" stroke="#2b2d33" stroke-width="0.2" textLength="9.28" lengthAdjust="spacingAndGlyphs" font-family="'Liberation Sans', sans-serif">H</text>
<text x="383.80" y="45.10" font-size="11" font-weight="normal" fill="#dc5269" stroke="#dc5269" stroke-width="0.2" textLength="31.30" lengthAdjust="spacingAndGlyphs" font-family="'Liberation Sans', sans-serif">3.28 T</text>
<text x="422.84" y="45.10" font-size="11" font-weight="normal" fill="#2b2d33" stroke="#2b2d33" stroke-width="0.2" textLength="6.49" lengthAdjust="spacingAndGlyphs" font-family="'Liberation Sans', sans-serif">L</text>
<text x="430.40" y="45.10" font-size="11" font-weight="normal" fill="#dc5269" stroke="#dc5269" stroke-width="0.2" textLength="30.40" lengthAdjust="spacingAndGlyphs" font-family="'Liberation Sans', sans-serif">3.27 T</text>
<text x="469.00" y="45.10" font-size="11" font-weight="normal" fill="#2b2d33" stroke="#2b2d33" stroke-width="0.2" textLength="7.06" lengthAdjust="spacingAndGlyphs" font-family="'Liberation Sans', sans-serif">C</text>
<text x="477.30" y="45.10" font-size="11" font-weight="normal" fill="#dc5269" stroke="#dc5269" stroke-width="0.2" textLength="31.50" lengthAdjust="spacingAndGlyphs" font-family="'Liberation Sans', sans-serif">3.27 T</text>
<text x="516.60" y="45.10" font-size="11" font-weight="normal" fill="#dc5269" stroke="#dc5269" stroke-width="0.2" textLength="40.05" lengthAdjust="spacingAndGlyphs" font-family="'Liberation Sans', sans-serif">−3.98 B</text>
<text x="560.80" y="45.10" font-size="11" font-weight="normal" fill="#dc5269" stroke="#dc5269" stroke-width="0.2" textLength="48.22" lengthAdjust="spacingAndGlyphs" font-family="'Liberation Sans', sans-serif">(−0.12%)</text>
<text x="68.41" y="61.40" font-size="11" font-weight="normal" fill="#2b2d33" stroke="#2b2d33" stroke-width="0.2" textLength="58.89" lengthAdjust="spacingAndGlyphs" font-family="'Liberation Sans', sans-serif">Daily Lines</text>
<text x="135.80" y="61.40" font-size="11" font-weight="normal" fill="#eef07c" stroke="#eef07c" stroke-width="0.2" textLength="30.70" lengthAdjust="spacingAndGlyphs" font-family="'Liberation Sans', sans-serif">3.08 T</text>
<text x="174.80" y="61.40" font-size="11" font-weight="normal" fill="#3f9a4c" stroke="#3f9a4c" stroke-width="0.2" textLength="32.40" lengthAdjust="spacingAndGlyphs" font-family="'Liberation Sans', sans-serif">2.83 T</text>
<text x="215.50" y="61.40" font-size="11" font-weight="normal" fill="#4545cf" stroke="#4545cf" stroke-width="0.2" textLength="31.50" lengthAdjust="spacingAndGlyphs" font-family="'Liberation Sans', sans-serif">2.86 T</text>
<text x="255.30" y="61.40" font-size="11" font-weight="normal" fill="#d94b57" stroke="#d94b57" stroke-width="0.2" textLength="31.60" lengthAdjust="spacingAndGlyphs" font-family="'Liberation Sans', sans-serif">3.03 T</text>
<text x="19.40" y="86.90" font-size="11" font-weight="normal" fill="#2b2d33" stroke="#2b2d33" stroke-width="0.2" textLength="32.90" lengthAdjust="spacingAndGlyphs" font-family="'Liberation Sans', sans-serif">3.42 T</text>
<text x="19.40" y="141.00" font-size="11" font-weight="normal" fill="#2b2d33" stroke="#2b2d33" stroke-width="0.2" textLength="32.90" lengthAdjust="spacingAndGlyphs" font-family="'Liberation Sans', sans-serif">3.34 T</text>
<text x="19.40" y="231.80" font-size="11" font-weight="normal" fill="#2b2d33" stroke="#2b2d33" stroke-width="0.2" textLength="32.90" lengthAdjust="spacingAndGlyphs" font-family="'Liberation Sans', sans-serif">3.21 T</text>
<text x="19.40" y="274.60" font-size="11" font-weight="normal" fill="#2b2d33" stroke="#2b2d33" stroke-width="0.2" textLength="32.90" lengthAdjust="spacingAndGlyphs" font-family="'Liberation Sans', sans-serif">3.15 T</text>
<text x="19.40" y="304.50" font-size="11" font-weight="normal" fill="#2b2d33" stroke="#2b2d33" stroke-width="0.2" textLength="33.09" lengthAdjust="spacingAndGlyphs" font-family="'Liberation Sans', sans-serif">3.11 T</text>
<text x="19.40" y="334.00" font-size="11" font-weight="normal" fill="#2b2d33" stroke="#2b2d33" stroke-width="0.2" textLength="32.90" lengthAdjust="spacingAndGlyphs" font-family="'Liberation Sans', sans-serif">3.07 T</text>
<text x="19.40" y="394.00" font-size="11" font-weight="normal" fill="#2b2d33" stroke="#2b2d33" stroke-width="0.2" textLength="32.90" lengthAdjust="spacingAndGlyphs" font-family="'Liberation Sans', sans-serif">2.99 T</text>
<text x="19.40" y="425.30" font-size="11" font-weight="normal" fill="#2b2d33" stroke="#2b2d33" stroke-width="0.2" textLength="32.90" lengthAdjust="spacingAndGlyphs" font-family="'Liberation Sans', sans-serif">2.95 T</text>
<text x="68.43" y="450.90" font-size="11" font-weight="normal" fill="#2b2d33" stroke="#2b2d33" stroke-width="0.2" textLength="78.18" lengthAdjust="spacingAndGlyphs" font-family="'Liberation Sans', sans-serif">RSI (14, close)</text>
<text x="154.10" y="450.90" font-size="11" font-weight="normal" fill="#9d7ed2" stroke="#9d7ed2" stroke-width="0.2" textLength="30.49" lengthAdjust="spacingAndGlyphs" font-family="'Liberation Sans', sans-serif">52.92</text>
<text x="192.30" y="450.90" font-size="11" font-weight="normal" fill="#e6ee82" stroke="#e6ee82" stroke-width="0.2" textLength="30.49" lengthAdjust="spacingAndGlyphs" font-family="'Liberation Sans', sans-serif">52.80</text>
<text x="973.80" y="468.40" font-size="11" font-weight="normal" fill="#2b2d33" stroke="#2b2d33" stroke-width="0.2" textLength="32.02" lengthAdjust="spacingAndGlyphs" font-family="'Liberation Sans', sans-serif">70.00</text>
<text x="973.80" y="508.00" font-size="11" font-weight="normal" fill="#2b2d33" stroke="#2b2d33" stroke-width="0.2" textLength="32.02" lengthAdjust="spacingAndGlyphs" font-family="'Liberation Sans', sans-serif">60.00</text>
<text x="973.80" y="586.90" font-size="11" font-weight="normal" fill="#2b2d33" stroke="#2b2d33" stroke-width="0.2" textLength="32.02" lengthAdjust="spacingAndGlyphs" font-family="'Liberation Sans', sans-serif">40.00</text>
<text x="973.80" y="625.90" font-size="11" font-weight="normal" fill="#2b2d33" stroke="#2b2d33" stroke-width="0.2" textLength="32.02" lengthAdjust="spacingAndGlyphs" font-family="'Liberation Sans', sans-serif">30.00</text>
<text x="973.80" y="665.40" font-size="11" font-weight="normal" fill="#2b2d33" stroke="#2b2d33" stroke-width="0.2" textLength="32.02" lengthAdjust="spacingAndGlyphs" font-family="'Liberation Sans', sans-serif">20.00</text>
<text x="33.40" y="720.80" font-size="12.5" font-weight="normal" fill="#131722" stroke="#131722" stroke-width="0.2" textLength="69.40" lengthAdjust="spacingAndGlyphs" font-family="'Liberation Sans', sans-serif">TradingView</text>
<rect x="13.6" y="315" width="47.1" height="15.7" rx="1.5" fill="#f5f500"/>
<rect x="13.6" y="351.6" width="47.1" height="15.9" rx="1.5" fill="#f01c1c"/>
<rect x="32" y="378" width="28.7" height="15.9" rx="1.5" fill="#0e3b2f"/>
<text x="19.30" y="187.40" font-size="11" font-weight="normal" fill="#fde8ea" stroke="#fde8ea" stroke-width="0.05" textLength="33.20" lengthAdjust="spacingAndGlyphs" font-family="'Liberation Sans', sans-serif">3.27 T</text>
<text x="20.70" y="201.20" font-size="11" font-weight="normal" fill="#fde8ea" stroke="#fde8ea" stroke-width="0.05" textLength="32.43" lengthAdjust="spacingAndGlyphs" font-family="'Liberation Sans', sans-serif">48:19</text>
<text x="67.10" y="187.40" font-size="11" font-weight="normal" fill="#fde8ea" stroke="#fde8ea" stroke-width="0.05" textLength="34.64" lengthAdjust="spacingAndGlyphs" font-family="'Liberation Sans', sans-serif">TOTAL</text>
<text x="19.40" y="327.00" font-size="11" font-weight="normal" fill="#222" stroke="#222" stroke-width="0.05" textLength="32.90" lengthAdjust="spacingAndGlyphs" font-family="'Liberation Sans', sans-serif">3.08 T</text>
<text x="19.40" y="363.60" font-size="11" font-weight="normal" fill="#fde8e8" stroke="#fde8e8" stroke-width="0.05" textLength="32.90" lengthAdjust="spacingAndGlyphs" font-family="'Liberation Sans', sans-serif">3.03 T</text>
<text x="37.00" y="390.00" font-size="11" font-weight="normal" fill="#cfdcd6" stroke="#cfdcd6" stroke-width="0.05" textLength="15.02" lengthAdjust="spacingAndGlyphs" font-family="'Liberation Sans', sans-serif">3 T</text>
<text x="973.80" y="535.90" font-size="11" font-weight="normal" fill="#f6effa" stroke="#f6effa" stroke-width="0.05" textLength="32.02" lengthAdjust="spacingAndGlyphs" font-family="'Liberation Sans', sans-serif">52.92</text>
<text x="973.80" y="551.90" font-size="11" font-weight="normal" fill="#222" stroke="#222" stroke-width="0.05" textLength="32.02" lengthAdjust="spacingAndGlyphs" font-family="'Liberation Sans', sans-serif">52.80</text>
<text x="99.0" y="690.8" font-size="11.4" fill="#2b2d33" text-anchor="middle" font-family="'Liberation Sans', sans-serif" stroke="#2b2d33" stroke-width="0.25">25</text>
<text x="165.0" y="690.8" font-size="11.4" fill="#2b2d33" text-anchor="middle" font-family="'Liberation Sans', sans-serif" stroke="#2b2d33" stroke-width="0.25">27</text>
<text x="231.0" y="690.8" font-size="11.4" fill="#2b2d33" text-anchor="middle" font-family="'Liberation Sans', sans-serif" stroke="#2b2d33" stroke-width="0.25">29</text>
<text x="363.0" y="690.8" font-size="11.4" fill="#2b2d33" text-anchor="middle" font-family="'Liberation Sans', sans-serif" stroke="#2b2d33" stroke-width="0.25">3</text>
<text x="429.0" y="690.8" font-size="11.4" fill="#2b2d33" text-anchor="middle" font-family="'Liberation Sans', sans-serif" stroke="#2b2d33" stroke-width="0.25">5</text>
<text x="495.0" y="690.8" font-size="11.4" fill="#2b2d33" text-anchor="middle" font-family="'Liberation Sans', sans-serif" stroke="#2b2d33" stroke-width="0.25">7</text>
<text x="561.4" y="690.8" font-size="11.4" fill="#2b2d33" text-anchor="middle" font-family="'Liberation Sans', sans-serif" stroke="#2b2d33" stroke-width="0.25">9</text>
<text x="627.4" y="690.8" font-size="11.4" fill="#2b2d33" text-anchor="middle" font-family="'Liberation Sans', sans-serif" stroke="#2b2d33" stroke-width="0.25">11</text>
<text x="693.4" y="690.8" font-size="11.4" fill="#2b2d33" text-anchor="middle" font-family="'Liberation Sans', sans-serif" stroke="#2b2d33" stroke-width="0.25">13</text>
<text x="759.5" y="690.8" font-size="11.4" fill="#2b2d33" text-anchor="middle" font-family="'Liberation Sans', sans-serif" stroke="#2b2d33" stroke-width="0.25">15</text>
<text x="825.5" y="690.8" font-size="11.4" fill="#2b2d33" text-anchor="middle" font-family="'Liberation Sans', sans-serif" stroke="#2b2d33" stroke-width="0.25">17</text>
<text x="891.5" y="690.8" font-size="11.4" fill="#2b2d33" text-anchor="middle" font-family="'Liberation Sans', sans-serif" stroke="#2b2d33" stroke-width="0.25">19</text>
<text x="957.0" y="690.8" font-size="11.4" fill="#2b2d33" text-anchor="middle" font-family="'Liberation Sans', sans-serif" stroke="#2b2d33" stroke-width="0.25">21</text>
<text x="297.2" y="690.8" font-size="11.4" fill="#131722" text-anchor="middle" font-family="'Liberation Sans', sans-serif" font-weight="bold">May</text>
<text x="36.1" y="690.1" font-size="10.5" fill="#5d6068" text-anchor="middle" font-family="'Liberation Sans', sans-serif" >Z</text>
<text x="989.5" y="690.6" font-size="10.5" fill="#5d6068" text-anchor="middle" font-family="'Liberation Sans', sans-serif" >A</text>
</svg>
</body></html>
